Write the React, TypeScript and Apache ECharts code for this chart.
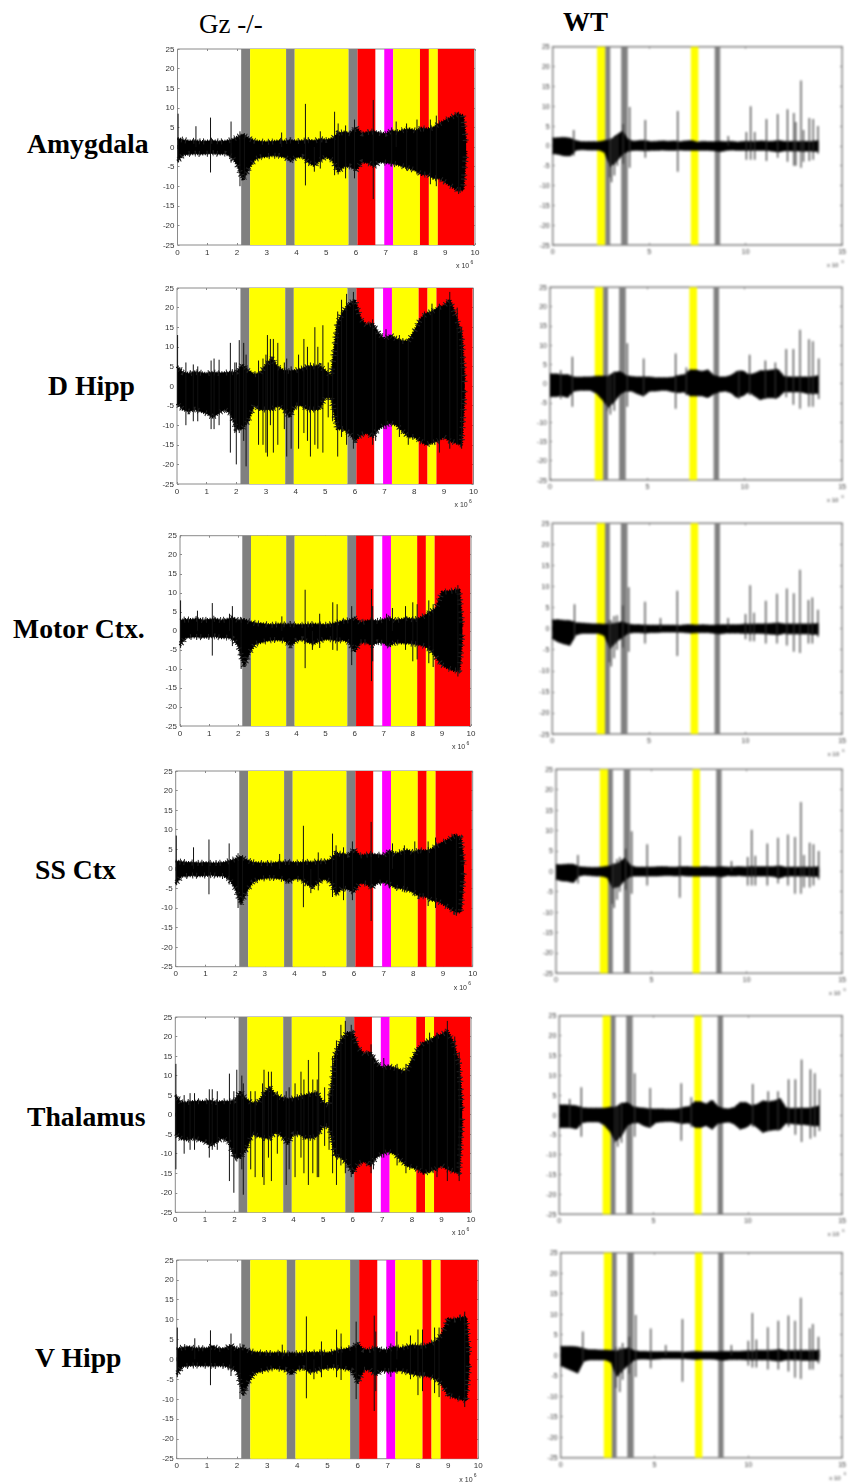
import React, { useEffect, useRef } from "react";
import * as echarts from "echarts";

const WIDTH = 849;
const HEIGHT = 1483;

// sample positions of the envelopes (x 10^6)
const xLeft = [
  0, 0.2, 0.4, 0.6, 0.8, 1, 1.2, 1.4, 1.6, 1.8,
  2, 2.2, 2.4, 2.6, 2.8, 3, 3.2, 3.4, 3.6, 3.8,
  4, 4.2, 4.4, 4.6, 4.8, 5, 5.2, 5.4, 5.6, 5.8,
  6, 6.2, 6.4, 6.6, 6.8, 7, 7.2, 7.4, 7.6, 7.8,
  8, 8.2, 8.4, 8.6, 8.8, 9, 9.2, 9.4, 9.6, 9.7,
];
const xRight = [
  0, 0.3, 0.6, 0.9, 1.2, 1.5, 1.8, 2.1, 2.4, 2.7,
  3, 3.3, 3.6, 3.9, 4.2, 4.5, 4.8, 5.1, 5.4, 5.7,
  6, 6.3, 6.6, 6.9, 7.2, 7.5, 7.8, 8.1, 8.4, 8.7,
  9, 9.3, 9.6, 9.9, 10.2, 10.5, 10.8, 11.1, 11.4, 11.7,
  12, 12.3, 12.6, 12.9, 13.2, 13.5, 13.8,
];

// coloured epochs
const leftBandStart = [2.14, 2.44, 3.65, 3.94, 5.75, 6.05, 6.95, 7.25, 8.15, 8.45, 8.75];
const leftBandEnd = [2.44, 3.65, 3.94, 5.75, 6.05, 6.65, 7.25, 8.15, 8.45, 8.75, 9.97];
const leftBandKind = ["grey", "yellow", "grey", "yellow", "grey", "red", "magenta", "yellow", "red", "yellow", "red"];
const rightBandStart = [2.3, 2.73, 3.55, 7.16, 8.4];
const rightBandEnd = [2.73, 2.98, 3.89, 7.55, 8.68];
const rightBandKind = ["yellow", "grey", "grey", "yellow", "grey"];

// Gz -/- column: upper and lower envelopes
const amygUp = [
  2.2, 1.8, 1.5, 1.6, 1.4, 1.5, 1.6, 1.4, 1.5, 1.8,
  2.5, 3.2, 2.2, 1.6, 1.4, 1.3, 1.4, 1.6, 1.5, 1.7,
  1.5, 1.6, 1.7, 1.6, 2, 1.8, 2.2, 3.6, 3.8, 3.5,
  5, 3.4, 3.8, 4, 3.6, 3.4, 4.2, 3.8, 4.4, 4.6,
  4.2, 4.8, 4.6, 5, 6, 6.8, 7.6, 8.4, 8, 1,
];
const amygLo = [
  -3.6, -2, -1.8, -1.7, -1.8, -1.7, -1.6, -1.8, -1.7, -2.4,
  -4.5, -8.5, -5.5, -3.2, -2.6, -2.4, -2.2, -2.3, -2.6, -3.6,
  -2.6, -2.5, -4, -4.8, -3.4, -2.5, -3.4, -6.4, -5, -5,
  -6, -3.8, -4, -5, -3.8, -4, -4.2, -4.5, -5, -5.5,
  -6, -7, -7, -8, -8, -9, -10, -11, -11, -1,
];
const dhippUp = [
  5, 3.5, 3.2, 3.6, 3.4, 3.2, 3.5, 3.3, 3.4, 3.5,
  3.6, 5.5, 4, 3, 3.2, 5.5, 7, 4.8, 4, 3.8,
  4, 4.4, 5, 5, 5.2, 4, 2.6, 16, 19, 21,
  22, 17, 15.5, 16, 13.5, 12, 13, 12, 11.5, 11.5,
  14, 17, 18.5, 19, 20, 20.5, 22, 18, 13, 1,
];
const dhippLo = [
  -4.5, -6, -6.5, -6, -6.5, -7, -8, -7, -6, -7,
  -11, -11, -9, -5, -6, -6, -6, -5, -6, -8,
  -5, -5, -6, -6, -6, -3, -3, -11, -11, -12,
  -14, -12.5, -12, -13, -11, -10, -9.5, -10, -11.5, -13,
  -13, -14, -15, -14.5, -14, -13, -14, -14.5, -15, -1,
];
const motorUp = [
  2.8, 3, 3, 3.2, 2.8, 3, 3.2, 2.8, 3, 3.5,
  2.8, 3, 2.4, 2, 1.9, 1.7, 1.6, 1.8, 1.7, 1.8,
  1.6, 1.6, 1.7, 1.8, 1.7, 1.6, 1.8, 2.2, 2.6, 2.8,
  3.4, 2.2, 2.6, 2.8, 2.6, 3, 3.4, 2.8, 3, 3.4,
  3, 3.2, 4, 5, 6, 10.2, 10.4, 10.6, 10.8, 1,
];
const motorLo = [
  -3.8, -1.8, -1.6, -1.6, -1.7, -1.6, -1.5, -1.8, -1.8, -2,
  -4, -9.4, -5.6, -3.4, -3, -2.6, -2.4, -2.4, -2.6, -4,
  -2.6, -2.2, -3, -3.4, -2.6, -2.2, -2.2, -2.6, -2.4, -3,
  -5.5, -3, -3, -3.8, -3, -3.2, -4, -3, -3.2, -3.2,
  -3.4, -3.6, -4, -5, -7, -9, -9.8, -10.4, -10.5, -1,
];
const ssUp = [
  2, 1.8, 1.6, 1.6, 1.5, 1.6, 1.5, 1.5, 1.6, 2,
  2.5, 3.2, 2.2, 1.7, 1.5, 1.5, 1.4, 1.6, 1.7, 1.8,
  1.6, 1.6, 1.8, 1.7, 2, 1.9, 2.3, 4, 3.8, 3.6,
  5, 3.4, 3.6, 3.8, 3.6, 3.5, 4.6, 3.8, 4.4, 4.8,
  4.2, 4.8, 4.6, 5, 6, 6.8, 7.6, 8.6, 8, 1,
];
const ssLo = [
  -3.8, -1.9, -1.8, -1.7, -1.8, -1.7, -1.6, -1.8, -1.8, -2.6,
  -5, -9, -5.6, -3.4, -2.6, -2.4, -2.3, -2.4, -2.6, -3.4,
  -2.5, -2.6, -3.8, -4.8, -3.5, -2.6, -3.2, -6.5, -5, -5.2,
  -6, -3.6, -3.8, -4.8, -3.6, -3.4, -4, -4.8, -5, -5.4,
  -6, -7, -7, -8, -8.2, -9, -10, -11, -11, -1,
];
const thalUp = [
  5, 3.2, 3.2, 3.4, 3.4, 3.4, 3.6, 3.2, 3.4, 3.4,
  3.6, 6, 4, 3, 3.2, 5.5, 7, 5, 4.4, 4,
  4.2, 4.6, 5, 5.4, 5.6, 3.2, 2.4, 15.5, 19, 21,
  21, 17, 15.5, 16, 13.5, 12, 12.5, 12, 11.5, 11,
  14, 17, 18.5, 19, 20, 20.5, 21.5, 18.5, 13, 1,
];
const thalLo = [
  -5, -6.2, -6.5, -6, -6.5, -7, -8, -7, -6, -7,
  -11, -11, -9, -5, -5.5, -6, -6, -4.5, -5.5, -7.5,
  -5, -5, -6, -6, -5.5, -3, -3, -10.5, -11, -12.5,
  -15, -12.5, -12, -13, -11, -10, -9.5, -10, -11.5, -13,
  -13.5, -14, -15, -14.5, -14, -13, -14, -14.5, -15, -1,
];
const vhippUp = [
  2.6, 3, 3.2, 2.8, 2.8, 2.8, 3.4, 2.6, 2.8, 3.6,
  2.6, 3, 2.2, 1.8, 1.7, 1.6, 1.6, 1.7, 1.5, 1.6,
  1.5, 1.6, 1.7, 1.7, 1.8, 1.6, 2, 2.4, 2.6, 3,
  4, 2.4, 2.4, 3, 2.4, 2.4, 3.2, 2.8, 3.2, 3.6,
  3.4, 3.4, 4, 4.6, 6.5, 10.2, 10, 10.5, 10.5, 1,
];
const vhippLo = [
  -3.8, -1.8, -1.6, -1.5, -1.6, -1.6, -1.7, -1.6, -1.7, -2.2,
  -3, -9, -5.5, -3.4, -3, -2.6, -2.2, -2.4, -2.6, -3.8,
  -2.4, -2.2, -3.2, -3, -2.4, -2.2, -2, -2.2, -2.4, -2.8,
  -6, -2.6, -2.6, -4, -2.8, -3, -3, -2.8, -3.2, -3.6,
  -4, -4, -4.4, -5, -6.5, -9, -9.6, -10, -10.4, -1,
];

// Gz -/- column: isolated spikes [x, top, bottom]
const amygSpikes = [
  [0.02, 8.5, -4], [0.62, 5.3, 0], [1.11, 7.5, -6.5], [1.8, 6.5, -4], [2.1, 4, -10], [2.25, 3.5, -8],
  [3.5, 3.7, 0], [4.3, 11, -9.8], [4.6, 0, -6.3], [4.8, 4, -5.5], [5.28, 9, -7.2], [5.4, 6, -7],
  [5.65, 5.5, -8], [5.95, 7, -8], [6.58, 12, -13.3], [7.2, 5, -5], [7.35, 6.5, 0], [7.7, 6, -6],
  [8.05, 7, -7], [8.5, 7, -9.5], [8.7, 8, -10], [9.45, 9, -12],
];
const dhippSpikes = [
  [0.02, 13, -5], [0.3, 6, -10], [0.55, 5.5, -9], [0.7, 5, -9], [1.15, 6.5, -11], [1.25, 7, -11],
  [1.42, 6.7, -10], [1.8, 11, -17], [1.95, 6, -12], [2, 6, -20], [2.1, 11.7, -12], [2.25, 11, -14],
  [2.33, 8, -20.5], [2.75, 6.5, -15], [2.9, 7, -15], [3, 8, -17], [3.05, 13, -18], [3.15, 12, -10],
  [3.25, 12, -17], [3.4, 11, -15], [3.62, 6, -11], [3.7, 7, -18], [3.85, 5, -16], [4.1, 8, -16],
  [4.28, 12, -12], [4.4, 10, -14], [4.5, 6, -18], [4.65, 15, -15], [4.75, 10, -16], [4.92, 15.5, -17],
  [5.1, 6, -8], [5.25, 5, -9], [5.42, 19, -18], [5.55, 22, -13], [5.72, 23.5, -15], [5.95, 24, -16],
  [6.6, 17, -15], [6.7, 14, -14], [7.05, 14.5, -11], [7.5, 13, -13], [7.8, 12, -15], [8.35, 19, -14],
  [8.6, 21, -15], [8.85, 21, -17], [9.2, 24, -16], [9.45, 20, -15], [9.6, 15, -16],
];
const motorSpikes = [
  [0.02, 8, -4.5], [0.6, 5.3, 0], [1.11, 7.3, -6.5], [1.7, 4.5, 0], [1.8, 6.5, -4], [2.1, 3.5, -10],
  [3.5, 3.8, 0], [4.3, 10.8, -9.8], [4.55, 0, -5], [4.8, 4.5, -4.5], [5.25, 7.5, -5], [5.4, 7, -5.2],
  [5.9, 6.5, -9], [6.58, 11, -13.2], [6.62, 6.5, -8], [7.1, 4.5, -4], [7.3, 6, 0], [7.75, 6.5, -5],
  [8, 7.5, -8], [8.15, 7, -7.5], [8.55, 8, -8.5], [8.7, 7, -9.5], [9.55, 12, -12],
];
const ssSpikes = [
  [0.02, 8.5, -4.2], [0.6, 5.5, 0], [1.12, 7.5, -6.5], [1.8, 6.5, -4], [2.1, 4, -10], [2.25, 3.5, -8],
  [3.5, 3.8, 0], [4.3, 11, -9.8], [4.55, 0, -6.2], [4.8, 4.2, -5.5], [5.28, 9, -7.2], [5.4, 6, -7],
  [5.65, 5.5, -8], [5.95, 7, -8], [6.58, 12, -13.3], [7.2, 5, -5], [7.3, 6.5, 0], [7.7, 6, -6],
  [8.05, 7, -7], [8.5, 7, -9.5], [8.75, 8, -10], [9.45, 9, -12],
];
const thalSpikes = [
  [0.02, 13, -14], [0.3, 5, -10], [0.5, 5.5, -9], [0.65, 5.5, -9], [1.15, 6.5, -11], [1.25, 6.5, -9],
  [1.42, 6, -9], [1.83, 10.5, -17], [1.98, 6, -20], [2.08, 11.5, -12], [2.25, 10, -14], [2.3, 8, -20.5],
  [2.55, 6, -14], [2.7, 6, -16], [2.95, 8, -16], [3, 11.5, -18], [3.15, 11, -11], [3.25, 11, -17],
  [3.45, 6, -10], [3.75, 6, -18], [3.85, 7, -14], [4.05, 8, -16], [4.25, 11, -11], [4.35, 9, -15],
  [4.5, 14, -18], [4.65, 9, -15], [4.8, 9, -16], [4.85, 16, -16], [5.05, 7, -8], [5.2, 6, -9],
  [5.32, 15, -15], [5.45, 19, -18], [5.6, 23, -13], [5.75, 24, -15], [5.95, 23, -16], [6.62, 18, -15],
  [6.7, 14, -14], [7.05, 14.5, -11], [7.5, 13, -13], [7.8, 13, -15], [8.35, 17, -14], [8.6, 21, -15],
  [8.85, 21, -16], [9.2, 24, -17], [9.45, 20, -15], [9.6, 16, -17],
];
const vhippSpikes = [
  [0.02, 8, -4.5], [0.6, 5.3, 0], [1.12, 7.3, -6.5], [1.8, 6.5, -4.2], [2.1, 4, -10], [3.5, 3.7, 0],
  [4.3, 10.8, -9.8], [4.55, 0, -5], [4.8, 4.5, -4.5], [5.3, 7.5, -4.5], [5.45, 6.5, -5.2],
  [5.95, 9.5, -10], [6.55, 11, -13], [6.6, 7, -8], [7.1, 4, -4.4], [7.3, 7, 0], [7.75, 6, -5],
  [8, 7.5, -9], [8.15, 7.5, -8], [8.55, 8, -8.5], [8.7, 8, -9.5], [9.55, 12, -12],
];

// WT column: upper and lower envelopes
const wtAmygUp = [
  1.8, 1.9, 2, 1.8, 1.2, 0.9, 0.9, 0.9, 0.9, 1.2,
  1.4, 2.5, 3.5, 1.5, 1, 1.2, 1.2, 0.9, 1, 1.1,
  1, 1.1, 0.9, 1.1, 1.2, 0.8, 1, 0.9, 0.9, 1,
  0.9, 1, 0.8, 1, 1, 1, 1.1, 1, 1, 1.2,
  1, 1, 1, 1, 1, 1, 1.2,
];
const wtAmygLo = [
  -1.8, -2, -2.4, -2.4, -1, -0.8, -0.9, -0.9, -0.9, -1.5,
  -5, -3.8, -2, -1.2, -1, -1, -1.1, -1, -1, -0.9,
  -1, -1, -0.9, -1, -1, -1, -1, -1, -1.1, -1.3,
  -1, -0.9, -1, -1, -1, -1, -1, -1, -1.2, -1.4,
  -1.1, -1.1, -1.1, -1.2, -1.2, -1.2, -1.3,
];
const wtDhippUp = [
  2.4, 2.4, 2.2, 2.2, 1.6, 1.5, 1.6, 1.6, 1.8, 1.8,
  1.8, 2.8, 3, 2, 1.7, 1.6, 1.6, 1.6, 1.4, 1.4,
  1.4, 1.5, 2, 2.2, 3.4, 3.4, 3, 3.4, 2, 1.6,
  1.6, 2, 3, 3.2, 2.2, 2.5, 3.2, 3.2, 3.4, 3.6,
  1.8, 1.6, 1.6, 1.6, 1.6, 1.6, 2,
];
const wtDhippLo = [
  -3.2, -3.2, -3, -3.4, -1.8, -1.6, -1.6, -1.6, -2.4, -4,
  -6, -4.5, -2.5, -1.8, -1.8, -2.5, -3, -1.8, -1.8, -1.6,
  -1.6, -2, -2.2, -2, -3, -3, -3, -3.5, -2.5, -2,
  -1.8, -2.2, -3.5, -3, -2, -3, -4, -3.5, -3.5, -3.5,
  -2, -2, -2, -2, -2.4, -2.4, -2.4,
];
const wtMotorUp = [
  1.9, 2, 1.8, 1.8, 1.3, 1.2, 1.1, 1, 1, 0.9,
  0.9, 1.2, 1.5, 1, 0.8, 0.8, 0.7, 0.7, 0.7, 0.7,
  0.7, 0.7, 0.6, 0.8, 0.8, 0.7, 0.8, 0.7, 0.7, 0.8,
  0.8, 0.8, 0.8, 0.9, 0.9, 1, 1, 1, 1.1, 1.2,
  1, 1, 1, 1, 1, 1, 1.1,
];
const wtMotorLo = [
  -2.2, -3, -3.5, -3.8, -1.4, -1, -1, -1, -1, -1.5,
  -4.5, -3, -2, -1, -0.8, -0.8, -0.9, -0.8, -0.8, -0.7,
  -0.7, -0.7, -0.7, -0.8, -0.9, -0.8, -0.8, -0.8, -1, -1.1,
  -0.9, -0.9, -0.9, -1, -1, -1, -1, -1.1, -1.2, -1.3,
  -1, -1.1, -1.1, -1.1, -1.1, -1.2, -1.2,
];
const wtSsUp = [
  1.5, 1.5, 1.6, 1.6, 1, 0.9, 0.8, 0.8, 0.9, 1.1,
  1.4, 2, 3, 1.3, 0.9, 0.9, 0.9, 0.9, 1, 1,
  0.9, 0.9, 1, 1, 0.9, 0.9, 1, 0.9, 0.9, 1,
  0.9, 0.9, 1, 0.9, 1, 1, 1, 1, 1, 1.2,
  0.9, 0.9, 0.9, 0.9, 0.9, 0.9, 1,
];
const wtSsLo = [
  -1.8, -2.2, -2.3, -2.6, -1, -0.8, -0.9, -1, -1, -1.4,
  -4, -3.6, -2, -1.1, -1, -1, -1, -1, -1, -0.9,
  -0.9, -1, -0.9, -1, -1, -1, -1, -1, -1, -1.2,
  -0.9, -1, -0.9, -1, -1, -1, -1, -1, -1.1, -1.5,
  -1.1, -1, -1, -1, -1.1, -1.1, -1.2,
];
const wtThalUp = [
  2.4, 2.4, 2.3, 2.2, 1.7, 1.6, 1.6, 1.6, 1.6, 1.8,
  1.8, 2.8, 3, 2, 1.7, 1.6, 1.4, 1.4, 1.4, 1.3,
  1.3, 1.4, 1.8, 2, 3.2, 3.2, 2.6, 3.6, 2, 1.5,
  1.4, 1.8, 3, 3, 2.2, 2.6, 3.4, 3.2, 3.4, 4,
  1.8, 1.5, 1.6, 1.6, 1.6, 1.8, 2.2,
];
const wtThalLo = [
  -3, -3, -3, -3.4, -1.8, -1.6, -1.6, -1.6, -2.4, -4,
  -6.5, -5, -2.5, -1.8, -1.8, -2.6, -3, -1.8, -1.6, -1.5,
  -1.5, -1.8, -2, -1.8, -3, -3, -2.5, -3.4, -2, -1.8,
  -1.6, -2.2, -3.4, -3, -2, -3, -4.2, -3.8, -3.6, -3.5,
  -2, -2, -2.2, -2.2, -2.4, -2.6, -2.6,
];
const wtVhippUp = [
  2, 2, 2, 1.9, 1.5, 1.2, 1.2, 1.1, 1.1, 1,
  0.9, 1.4, 1.6, 1, 0.8, 0.8, 0.7, 0.7, 0.7, 0.7,
  0.7, 0.7, 0.6, 0.7, 0.8, 0.7, 0.7, 0.7, 0.7, 0.8,
  0.8, 0.8, 0.8, 0.9, 0.9, 1, 1, 1, 1.1, 1.2,
  0.9, 1, 1, 1, 1, 1, 1,
];
const wtVhippLo = [
  -2.4, -3, -3.6, -4.2, -1.4, -1, -1, -1, -1, -1.6,
  -5, -3.5, -2.2, -1.1, -0.8, -0.8, -0.9, -0.8, -0.7, -0.7,
  -0.7, -0.7, -0.7, -0.8, -0.9, -0.8, -0.8, -0.8, -1, -1.1,
  -0.9, -0.9, -0.9, -1, -1, -1, -1, -1, -1.2, -1.3,
  -1, -1, -1, -1.1, -1.1, -1.1, -1.2,
];

// WT column: isolated spikes [x, top, bottom]
const wtAmygSpikes = [
  [1.09, 4, -2.5], [2.95, 2, -8], [3.05, 2, -9.2], [3.2, 2.5, -7.5], [3.35, 2.5, -5], [3.65, 5.5, -4.5],
  [3.99, 9.8, -5.5], [4.8, 6.5, -3], [6.48, 8.8, -6.5], [9.1, 2.5, 0], [10.04, 3.5, -3.5], [10.26, 10, -3.5],
  [10.47, 3.5, -3.5], [11.08, 6.8, -3.8], [11.66, 8, -3], [12.17, 9.2, -4], [12.5, 8.3, -5], [12.6, 6, -5],
  [12.87, 16.5, -5.5], [13, 4, -4], [13.3, 7, -3.8], [13.5, 6.8, -3.5], [13.75, 5, -2],
];
const wtDhippSpikes = [
  [0.55, 3.5, -4], [1.15, 7, -6], [2.95, 2, -7], [3.1, 2, -8], [3.3, 3, -7], [3.97, 10.5, -6], [4.81, 6.5, -3],
  [6.45, 7.8, -6.5], [7, 4.2, -3], [9.7, 3.5, -4], [10.25, 7.5, -3], [11.06, 6, -4], [11.57, 5.5, -4],
  [12.13, 9, -3.5], [12.5, 9, -5.5], [12.84, 14, -6.5], [13.3, 11.5, -6], [13.5, 11, -6], [13.8, 6.5, -4],
];
const wtMotorSpikes = [
  [1.15, 5.8, -2], [2.95, 2, -8], [3.05, 2, -9], [3.2, 3, -7], [3.35, 3.2, -5], [3.65, 5.5, -4.5], [3.96, 9.8, -5.5],
  [4.8, 6.4, -3.5], [5.6, 2.5, 0], [6.47, 9, -6.5], [9.1, 2.5, 0], [10, 3.5, -2.5], [10.24, 10.3, -3],
  [10.44, 3.8, -3], [11.05, 6.6, -3.5], [11.63, 8.3, -3.5], [12.14, 9.5, -4], [12.5, 8.4, -5.5],
  [12.82, 14, -5.8], [13.26, 6.8, -3.5], [13.46, 7.4, -3.5], [13.75, 4.5, -2],
];
const wtSsSpikes = [
  [1.15, 4, -3], [2.95, 2, -8], [3.05, 2, -9], [3.2, 3, -7], [3.35, 3.5, -5], [3.65, 5.5, -4.5], [3.97, 9.8, -5.5],
  [4.78, 6.6, -3.5], [6.49, 8.6, -6.5], [9.2, 2.5, 0], [10.05, 3.5, -3.5], [10.26, 10.2, -3.5], [10.45, 3.8, -3.5],
  [11.08, 6.8, -3.5], [11.64, 8.2, -3], [12.16, 9, -3.5], [12.53, 8.4, -5.5], [12.84, 17, -5.5], [13, 4, -4],
  [13.3, 7, -4], [13.5, 6.6, -3.5], [13.77, 5, -2],
];
const wtThalSpikes = [
  [0.55, 4, -3], [1.17, 7, -5.5], [2.95, 2, -7], [3.1, 2, -8], [3.3, 3, -7], [4, 10.5, -5.5], [4.82, 6.8, -3],
  [6.47, 8, -6.5], [7, 4.5, -3], [10.26, 7.8, -3], [11.08, 6, -4], [11.6, 6, -4], [12.16, 9, -3],
  [12.52, 9, -5], [12.85, 14, -6.8], [13.32, 11.5, -6], [13.55, 10.5, -5.5], [13.8, 6.5, -4],
];
const wtVhippSpikes = [
  [1.18, 5.8, -2], [2.95, 2, -8], [3.15, 2, -9], [3.3, 3, -6], [3.65, 4.5, -4.5], [4, 9.8, -5.3], [4.8, 6.5, -3.2],
  [5.6, 2.5, 0], [6.49, 8.8, -6.5], [9.1, 2.5, 0], [10, 3.5, -2.5], [10.22, 10.3, -3], [10.43, 3.8, -3],
  [11.04, 6.8, -3.5], [11.6, 8.4, -3.5], [12.14, 9.7, -4], [12.49, 8.4, -5.5], [12.8, 14, -5.8],
  [13.27, 6.6, -3.5], [13.44, 7.6, -3.5], [13.74, 4.5, -2],
];

const regionNames = ["Amygdala", "D Hipp", "Motor Ctx.", "SS Ctx", "Thalamus", "V Hipp"];
const columnNames = ["Gz -/-", "WT"];

const leftSignals = [
  [amygUp, amygLo, amygSpikes],
  [dhippUp, dhippLo, dhippSpikes],
  [motorUp, motorLo, motorSpikes],
  [ssUp, ssLo, ssSpikes],
  [thalUp, thalLo, thalSpikes],
  [vhippUp, vhippLo, vhippSpikes],
];
const rightSignals = [
  [wtAmygUp, wtAmygLo, wtAmygSpikes],
  [wtDhippUp, wtDhippLo, wtDhippSpikes],
  [wtMotorUp, wtMotorLo, wtMotorSpikes],
  [wtSsUp, wtSsLo, wtSsSpikes],
  [wtThalUp, wtThalLo, wtThalSpikes],
  [wtVhippUp, wtVhippLo, wtVhippSpikes],
];

// layout: [left, top, right, bottom] of each plot box in page pixels
const leftBoxes = [
  [177.5, 49, 475, 245],
  [177, 288, 473.5, 484],
  [180, 535.7, 471, 726],
  [175.7, 771, 472.7, 966.7],
  [175.3, 1017, 471, 1212.3],
  [176.7, 1260, 478.3, 1458.7],
];
const rightBoxes = [
  [552.7, 46.7, 846, 245],
  [550, 287.3, 846, 480],
  [552.3, 523.3, 846.7, 734],
  [556, 769.3, 848, 973.3],
  [559.3, 1015.7, 846.7, 1214.3],
  [560.7, 1252.7, 848.3, 1457.7],
];
const regionLabelPos = [
  [27, 143],
  [48, 385],
  [13, 628],
  [35, 869],
  [27, 1116],
  [35, 1357],
];
const columnLabelPos = [
  [199, 24],
  [563, 22],
];

const BAND_COLORS: Record<string, string> = {
  grey: "#808080",
  yellow: "#ffff00",
  red: "#ff0000",
  magenta: "#ff00ff",
};

function buildColumn(opts: any) {
  const { boxes, signals, xs, xMax, xInterval, bandStart, bandEnd, bandKind, font, textColor, frame, frameWidth, spikeColor, spikeWidth, fringes } = opts;
  const grid: any[] = [];
  const xAxis: any[] = [];
  const yAxis: any[] = [];
  const series: any[] = [];
  const graphic: any[] = [];
  boxes.forEach((b: number[], i: number) => {
    const [l, t, r, bo] = b;
    grid.push({ left: l, top: t, width: r - l, height: bo - t, show: true, borderColor: frame, borderWidth: frameWidth, backgroundColor: "#fff" });
    const tick = { show: true, inside: true, length: 2, lineStyle: { color: frame, width: 1 } };
    const hiddenLine = { show: false, onZero: false };
    xAxis.push({
      type: "value", gridIndex: i, min: 0, max: xMax, interval: xInterval, position: "bottom",
      axisLine: hiddenLine, axisTick: tick, splitLine: { show: false },
      axisLabel: { fontFamily: "Liberation Sans", fontSize: font, color: textColor, margin: 3, hideOverlap: false },
    });
    xAxis.push({
      type: "value", gridIndex: i, min: 0, max: xMax, interval: xInterval, position: "top",
      axisLine: hiddenLine, axisTick: tick, splitLine: { show: false }, axisLabel: { show: false },
    });
    yAxis.push({
      type: "value", gridIndex: i, min: -25, max: 25, interval: 5, position: "left",
      axisLine: hiddenLine, axisTick: tick, splitLine: { show: false },
      axisLabel: { fontFamily: "Liberation Sans", fontSize: font, color: textColor, margin: 3, hideOverlap: false },
    });
    yAxis.push({
      type: "value", gridIndex: i, min: -25, max: 25, interval: 5, position: "right",
      axisLine: hiddenLine, axisTick: tick, splitLine: { show: false }, axisLabel: { show: false },
    });

    const [up, lo, spikes] = signals[i];
    const upData = xs.map((x: number, k: number) => [x, up[k]]);
    const loData = xs.map((x: number, k: number) => [x, lo[k]]);
    const common = {
      type: "line", xAxisIndex: i * 2, yAxisIndex: i * 2, symbol: "none", showSymbol: false, silent: true,
      lineStyle: { color: "#000", width: 0.8 }, animation: false,
    };
    // the two halves overlap a little around zero so that no seam shows
    series.push({
      ...common,
      name: `up-${i}`,
      data: upData,
      areaStyle: { color: "#000", opacity: 1, origin: -0.5 },
      markArea: {
        silent: true,
        data: bandStart.map((s: number, k: number) => [
          { xAxis: s, itemStyle: { color: BAND_COLORS[bandKind[k]], opacity: 1 } },
          { xAxis: bandEnd[k] },
        ]),
      },
    });
    series.push({
      ...common,
      name: `lo-${i}`,
      data: loData,
      areaStyle: { color: "#000", opacity: 1, origin: 0.5 },
    });
    // dashed thick strokes along the same envelopes give the trace's noisy edge
    fringes.forEach((f: any, k: number) => {
      [upData, loData].forEach((d: any, m: number) => {
        series.push({
          ...common,
          name: `fringe-${i}-${k}-${m}`,
          data: d,
          lineStyle: { color: f.color, width: f.width, type: f.dash, cap: "butt", dashOffset: f.offset * (m + 1) },
        });
      });
    });
    const spikeData: any[] = [];
    spikes.forEach((s: number[]) => {
      spikeData.push([s[0], s[1]], [s[0], s[2]], [s[0], null]);
    });
    series.push({
      ...common,
      name: `spikes-${i}`,
      data: spikeData,
      connectNulls: false,
      lineStyle: { color: spikeColor, width: spikeWidth },
    });

    // multiplier label
    graphic.push({
      type: "text", x: r - 19, y: bo + 17, silent: true,
      style: { text: "x 10", font: `${font - 1}px "Liberation Sans"`, fill: textColor },
    });
    graphic.push({
      type: "text", x: r - 4.5, y: bo + 14, silent: true,
      style: { text: "6", font: `${font - 3}px "Liberation Sans"`, fill: textColor },
    });
  });
  return { animation: false, grid, xAxis, yAxis, series, graphic };
}

function buildLabels() {
  const graphic: any[] = [];
  regionNames.forEach((t, i) => {
    graphic.push({
      type: "text", x: regionLabelPos[i][0], y: regionLabelPos[i][1], silent: true,
      style: { text: t, font: 'bold 27.7px "Liberation Serif"', fill: "#000", verticalAlign: "middle" },
    });
  });
  columnNames.forEach((t, i) => {
    graphic.push({
      type: "text", x: columnLabelPos[i][0], y: columnLabelPos[i][1], silent: true,
      style: { text: t, font: `${i === 1 ? "bold " : ""}27px "Liberation Serif"`, fill: "#000", verticalAlign: "middle" },
    });
  });
  return { animation: false, graphic };
}

const layer = (blur: number): React.CSSProperties => ({
  position: "absolute", left: 0, top: 0, width: WIDTH, height: HEIGHT,
  filter: blur ? `blur(${blur}px)` : undefined,
});

export default function App() {
  const leftRef = useRef<HTMLDivElement>(null);
  const rightRef = useRef<HTMLDivElement>(null);
  const labelRef = useRef<HTMLDivElement>(null);

  useEffect(() => {
    document.body.style.margin = "0";
    document.body.style.background = "#fff";
    const left = echarts.init(leftRef.current!, undefined, { renderer: "svg", width: WIDTH, height: HEIGHT });
    const right = echarts.init(rightRef.current!, undefined, { renderer: "svg", width: WIDTH, height: HEIGHT });
    const labels = echarts.init(labelRef.current!, undefined, { renderer: "svg", width: WIDTH, height: HEIGHT });
    left.setOption(
      buildColumn({
        boxes: leftBoxes, signals: leftSignals, xs: xLeft, xMax: 10, xInterval: 1,
        bandStart: leftBandStart, bandEnd: leftBandEnd, bandKind: leftBandKind,
        font: 8, textColor: "#333", frame: "#8a8a8a", frameWidth: 1, spikeColor: "#111", spikeWidth: 1,
        fringes: [
          { color: "#000", width: 3, dash: [1, 1.5], offset: 0 },
          { color: "#222", width: 6, dash: [1, 5, 1, 3, 1, 7], offset: 2 },
        ],
      })
    );
    right.setOption(
      buildColumn({
        boxes: rightBoxes, signals: rightSignals, xs: xRight, xMax: 15, xInterval: 5,
        bandStart: rightBandStart, bandEnd: rightBandEnd, bandKind: rightBandKind,
        font: 7, textColor: "#3a3a3a", frame: "#808080", frameWidth: 1.4, spikeColor: "#333", spikeWidth: 1.2,
        fringes: [{ color: "#000", width: 2.5, dash: [1.5, 1], offset: 0 }],
      })
    );
    labels.setOption(buildLabels());
    return () => {
      left.dispose();
      right.dispose();
      labels.dispose();
    };
  }, []);

  return (
    <div style={{ position: "absolute", left: 0, top: 0, width: WIDTH, height: HEIGHT, overflow: "hidden", background: "#fff" }}>
      <div ref={leftRef} style={layer(0.5)} />
      <div ref={rightRef} style={layer(0.8)} />
      <div ref={labelRef} style={layer(0)} />
    </div>
  );
}
